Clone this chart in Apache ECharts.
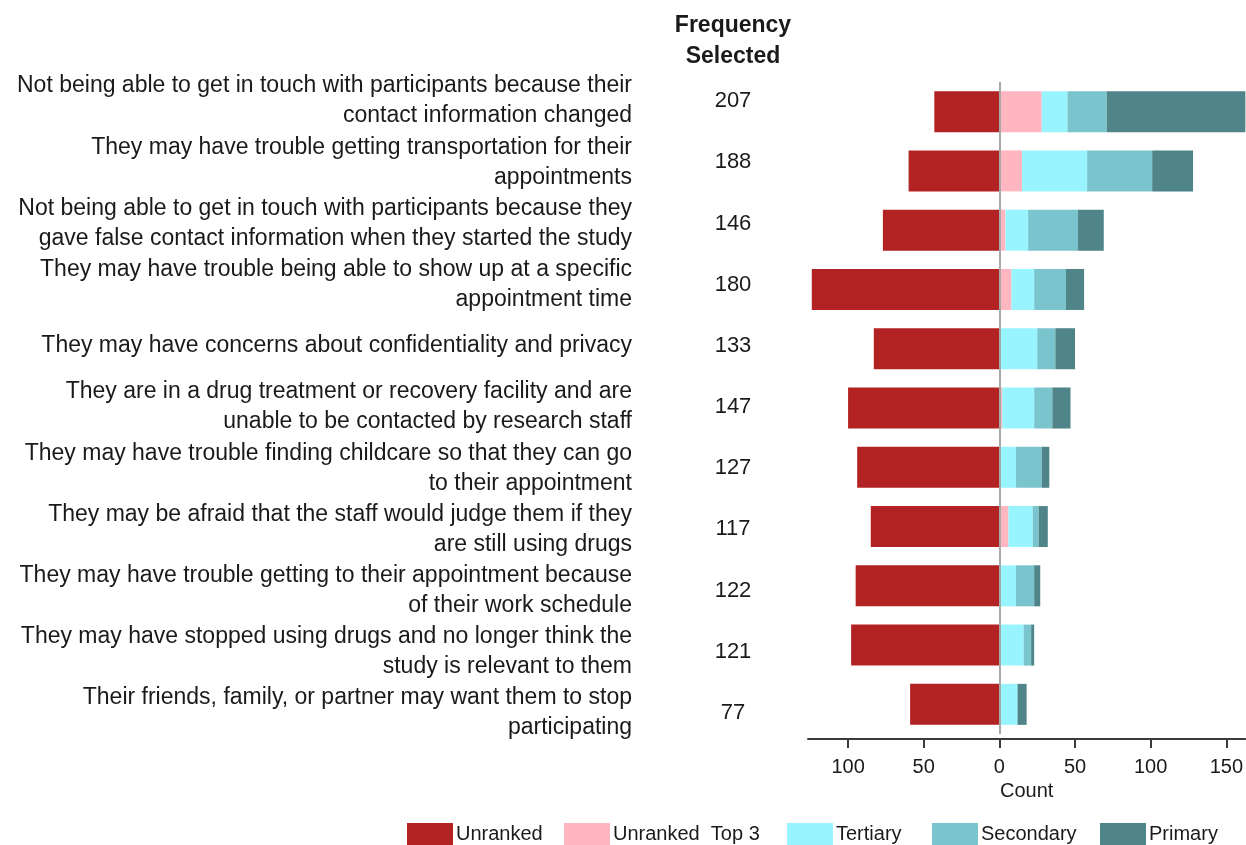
<!DOCTYPE html>
<html>
<head>
<meta charset="utf-8">
<script src="https://cdn.jsdelivr.net/npm/echarts@6/dist/echarts.min.js"></script>
<style>
  html, body { margin: 0; padding: 0; background: #fff; }
  #main { width: 1246px; height: 845px; }
</style>
</head>
<body>
<div id="main"></div>
<script>
// barriers, top to bottom
var barriers = [
  'Not being able to get in touch with participants because their\ncontact information changed',
  'They may have trouble getting transportation for their\nappointments',
  'Not being able to get in touch with participants because they\ngave false contact information when they started the study',
  'They may have trouble being able to show up at a specific\nappointment time',
  'They may have concerns about confidentiality and privacy',
  'They are in a drug treatment or recovery facility and are\nunable to be contacted by research staff',
  'They may have trouble finding childcare so that they can go\nto their appointment',
  'They may be afraid that the staff would judge them if they\nare still using drugs',
  'They may have trouble getting to their appointment because\nof their work schedule',
  'They may have stopped using drugs and no longer think the\nstudy is relevant to them',
  'Their friends, family, or partner may want them to stop\nparticipating'
];
var frequency = [207, 188, 146, 180, 133, 147, 127, 117, 122, 121, 77];

// counts per rank (unranked drawn to the left of zero)
var rankNames    = ['Unranked', 'Unranked  Top 3', 'Tertiary', 'Secondary', 'Primary'];
var unranked     = [43, 60, 77, 124, 83, 100, 94, 85, 95, 98, 59];
var unrankedTop3 = [28, 15, 4, 8, 0, 2, 0, 6, 0, 0, 0];
var tertiary     = [17, 43, 15, 15, 25, 21, 11, 16, 11, 16, 12];
var secondary    = [26, 43, 33, 21, 12, 12, 17, 4, 12, 5, 0];
var primary      = [93, 27, 17, 12, 13, 12, 5, 6, 4, 2, 6];

var tickValues = [-100, -50, 0, 50, 100, 150];

var font = '"Liberation Sans", Arial, sans-serif';
var textColor = '#1a1a1a';

var chart = echarts.init(document.getElementById('main'));

function barSeries(name, values, color, sign) {
  return {
    name: name,
    type: 'bar',
    stack: 'total',
    barWidth: 41,
    clip: true,
    itemStyle: { color: color },
    data: values.map(function (v) { return sign * v; })
  };
}

var series = [
  barSeries(rankNames[0], unranked, '#B22222', -1),
  barSeries(rankNames[1], unrankedTop3, '#FFB6C1', 1),
  barSeries(rankNames[2], tertiary, '#98F5FF', 1),
  barSeries(rankNames[3], secondary, '#7AC5CD', 1),
  barSeries(rankNames[4], primary, '#4F8488', 1)
];
// grey zero line
series[0].markLine = {
  silent: true,
  symbol: 'none',
  label: { show: false },
  lineStyle: { color: '#a8a8a8', width: 2, type: 'solid' },
  data: [{ xAxis: 0 }]
};

// one legend per item so the spacing follows the original
var legendLeft = [407, 564, 787, 932, 1100];
var legends = rankNames.map(function (n, i) {
  return {
    data: [n],
    left: legendLeft[i],
    top: 823,
    padding: 0,
    icon: 'rect',
    itemWidth: 46,
    itemHeight: 22,
    textStyle: { fontSize: 20, color: textColor, fontFamily: font, padding: [3, 0, 0, -2] }
  };
});

var option = {
  animation: false,
  backgroundColor: '#fff',
  textStyle: { fontFamily: font },
  graphic: [{
    type: 'text',
    x: 733,
    y: 10,
    style: {
      text: 'Frequency\nSelected',
      textAlign: 'center',
      font: 'bold 23px ' + font,
      lineHeight: 31,
      fill: textColor
    }
  }],
  legend: legends,
  grid: [
    { left: 808, right: 0, top: 82, height: 652 },
    { left: 808, right: 0, top: 70.5, height: 673 }
  ],
  xAxis: [{
    type: 'value',
    gridIndex: 0,
    min: -126.5,
    max: 162.6,
    offset: 5,
    name: 'Count',
    nameLocation: 'middle',
    nameGap: 42,
    nameTextStyle: { fontSize: 20, color: textColor, fontFamily: font },
    splitLine: { show: false },
    axisLine: { show: true, onZero: false, lineStyle: { color: '#3a3a3a', width: 2 } },
    axisTick: { show: true, length: 9, lineStyle: { color: '#3a3a3a', width: 2 }, customValues: tickValues },
    axisLabel: {
      customValues: tickValues,
      margin: 18,
      fontSize: 20,
      color: textColor,
      fontFamily: font,
      formatter: function (v) { return String(Math.abs(v)); }
    }
  }, {
    type: 'value',
    gridIndex: 1,
    show: false
  }],
  yAxis: [{
    type: 'category',
    gridIndex: 0,
    inverse: true,
    data: barriers,
    axisLine: { show: false },
    axisTick: { show: false },
    axisLabel: { show: false }
  }, {
    type: 'category',
    gridIndex: 1,
    position: 'left',
    offset: 0,
    inverse: true,
    data: barriers,
    axisLine: { show: false, onZero: false },
    axisTick: { show: false },
    axisLabel: {
      interval: 0,
      showMinLabel: true,
      showMaxLabel: true,
      hideOverlap: false,
      margin: 176,
      align: 'right',
      fontSize: 23,
      lineHeight: 30,
      color: textColor,
      fontFamily: font
    }
  }, {
    type: 'category',
    gridIndex: 1,
    position: 'left',
    offset: 0,
    inverse: true,
    data: frequency.map(String),
    axisLine: { show: false, onZero: false },
    axisTick: { show: false },
    axisLabel: {
      interval: 0,
      showMinLabel: true,
      showMaxLabel: true,
      margin: 75,
      align: 'center',
      fontSize: 22,
      color: textColor,
      fontFamily: font
    }
  }],
  series: series
};

chart.setOption(option);
</script>
</body>
</html>
